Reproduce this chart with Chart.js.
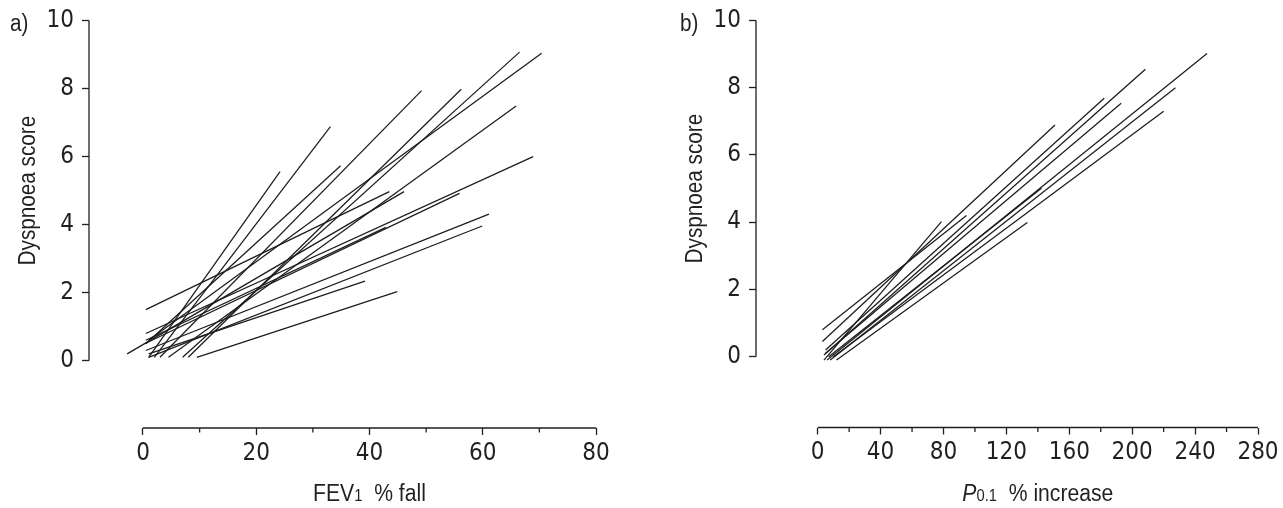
<!DOCTYPE html>
<html><head><meta charset="utf-8">
<script src="https://cdn.jsdelivr.net/npm/chart.js@4.4.1/dist/chart.umd.min.js"></script>
<style>
html,body{margin:0;padding:0;background:#fff;width:1283px;height:508px;overflow:hidden}
.box{position:absolute;top:0;height:508px}
#wa{left:0;width:660px}
#wb{left:660px;width:623px}
canvas{display:block}
</style></head><body>
<div class="box" id="wa"><canvas id="ca" width="660" height="508"></canvas></div>
<div class="box" id="wb"><canvas id="cb" width="623" height="508"></canvas></div>
<script>
// ---- data ----
const yTicks = [0, 2, 4, 6, 8, 10];
const fevTicks = [0, 20, 40, 60, 80];
const fevMinorTicks = [10, 30, 50, 70];
const p01Ticks = [0, 40, 80, 120, 160, 200, 240, 280];
const p01MinorTicks = [20, 60, 100, 140, 180, 220, 260];

// panel a: FEV1 % fall vs dyspnoea score (start/end of each subject's line)
const fevStartX = [0.5, -2.8, 0.5, 0.3, 0.5, 1.0, 0.5, 1.0, 9.5, 1.0, 2.0, 0.5, 3.0, 8.0, 7.0, 1.0, 4.5];
const fevStartY = [1.5, 0.2, 0.8, 0.5, 0.3, 0.1, 0.6, 0.2, 0.1, 0.1, 0.1, 0.5, 0.1, 0.1, 0.1, 0.6, 0.1];
const fevEndX   = [43.5, 46.1, 68.9, 55.9, 61.1, 59.9, 42.9, 39.2, 44.9, 24.2, 33.1, 34.9, 49.2, 56.2, 66.5, 70.4, 65.9];
const fevEndY   = [4.97, 4.97, 6.0, 4.92, 4.31, 3.96, 3.92, 2.34, 2.03, 5.56, 6.88, 5.73, 7.94, 7.98, 9.07, 9.04, 7.49];

// panel b: P0.1 % increase vs dyspnoea score
const p01StartX = [3, 3, 5, 4, 6, 5, 8, 7, 4, 12, 10];
const p01StartY = [0.8, 0.45, 0.2, 0.05, -0.1, 0.1, -0.1, 0.0, -0.1, -0.1, 0.0];
const p01EndX   = [94.6, 150.9, 182.2, 208.4, 247.6, 193, 227.5, 142.3, 78.7, 133.3, 220];
const p01EndY   = [4.2, 6.89, 7.69, 8.55, 9.02, 7.54, 8.0, 5.01, 4.02, 3.99, 7.3];

const yTitle = 'Dyspnoea score';
const fevTitle = [{t: 'FEV', k: 'n'}, {t: '1', k: 's'}, {t: '  % fall', k: 'n'}];
const p01Title = [{t: 'P', k: 'i'}, {t: '0.1', k: 's'}, {t: '  % increase', k: 'n'}];

// ---- styles ----
const INK = '#231f20';
const LINE = '#1c1c1c';
const TICKFONT = {family: "'Liberation Sans Narrow', 'Arial Narrow', 'DejaVu Sans Condensed', sans-serif", size: 24};
const TFAM = "'Liberation Sans', Arial, sans-serif";

function makeDatasets(sx, sy, ex, ey) {
  return sx.map((v, i) => ({
    data: [{x: sx[i], y: sy[i]}, {x: ex[i], y: ey[i]}],
    showLine: true, borderColor: LINE, borderWidth: 1.25,
    pointRadius: 0, pointHoverRadius: 0, fill: false
  }));
}

const decorPlugin = {
  id: 'decor',
  afterDraw(chart, args, o) {
    const ctx = chart.ctx;
    const xs = chart.scales.x, ys = chart.scales.y;
    const ca = chart.chartArea;
    ctx.save();
    ctx.strokeStyle = INK; ctx.lineWidth = 1.3;
    ctx.beginPath();
    ctx.moveTo(ca.left, ys.getPixelForValue(yTicks[0]));
    ctx.lineTo(ca.left, ys.getPixelForValue(yTicks[yTicks.length - 1]));
    ctx.moveTo(xs.getPixelForValue(o.xTicks[0]), ca.bottom);
    ctx.lineTo(xs.getPixelForValue(o.xTicks[o.xTicks.length - 1]), ca.bottom);
    o.minor.forEach(v => {
      const px = xs.getPixelForValue(v);
      ctx.moveTo(px, ca.bottom); ctx.lineTo(px, ca.bottom + 4.5);
    });
    ctx.stroke();
    ctx.fillStyle = INK;
    ctx.font = '23px ' + TFAM;
    ctx.textAlign = 'left'; ctx.textBaseline = 'alphabetic';
    ctx.save(); ctx.translate(o.letterX, 31); ctx.scale(0.9, 1); ctx.fillText(o.letter, 0, 0); ctx.restore();
    ctx.save();
    ctx.translate(ca.left - 60, ys.getPixelForValue(5));
    ctx.rotate(-Math.PI / 2);
    ctx.scale(0.9, 1);
    ctx.textAlign = 'center'; ctx.textBaseline = 'middle';
    ctx.font = '23px ' + TFAM;
    ctx.fillText(yTitle, 0, 0);
    ctx.restore();
    const fonts = {n: '23px ' + TFAM, i: 'italic 23px ' + TFAM, s: '16px ' + TFAM};
    let w = 0;
    o.xTitle.forEach(s => { ctx.font = fonts[s.k]; w += ctx.measureText(s.t).width; });
    const sc = 0.92;
    let cx = xs.getPixelForValue(o.xMid) - w * sc / 2;
    ctx.textAlign = 'left'; ctx.textBaseline = 'alphabetic';
    o.xTitle.forEach(s => {
      ctx.font = fonts[s.k];
      ctx.save(); ctx.translate(cx, 501); ctx.scale(sc, 1); ctx.fillText(s.t, 0, 0); ctx.restore();
      cx += ctx.measureText(s.t).width * sc;
    });
    ctx.restore();
  }
};

function makeChart(id, cfg) {
  return new Chart(document.getElementById(id), {
    type: 'scatter',
    data: {datasets: makeDatasets(cfg.sx, cfg.sy, cfg.ex, cfg.ey)},
    options: {
      responsive: false, animation: false, devicePixelRatio: 1,
      layout: {padding: {left: 0, top: 20.5, right: cfg.padRight, bottom: 0}},
      plugins: {legend: {display: false}, tooltip: {enabled: false},
        decor: {xTicks: cfg.xTicks, minor: cfg.minor, letter: cfg.letter, letterX: cfg.letterX, xTitle: cfg.xTitle, xMid: cfg.xMid}},
      scales: {
        x: {
          type: 'linear', min: cfg.xMin, max: cfg.xMax,
          afterBuildTicks: s => { s.ticks = cfg.xTicks.map(v => ({value: v})); },
          afterFit: s => { s.height = cfg.xH; s.paddingLeft = 0; s.paddingRight = 0; },
          ticks: {autoSkip: false, maxRotation: 0, minRotation: 0, padding: 4, color: INK, font: TICKFONT,
            callback: v => String(v)},
          grid: {display: true, drawOnChartArea: false, drawTicks: true, tickLength: 7, tickColor: INK, tickWidth: 1.3},
          border: {display: false}
        },
        y: {
          type: 'linear', min: cfg.yMin, max: 10,
          afterBuildTicks: s => { s.ticks = yTicks.map(v => ({value: v})); },
          afterFit: s => { s.width = cfg.yW; s.paddingTop = 0; s.paddingBottom = 0; },
          ticks: {autoSkip: false, padding: 8, color: INK, font: TICKFONT, callback: v => String(v)},
          grid: {display: true, drawOnChartArea: false, drawTicks: true, tickLength: 7, tickColor: INK, tickWidth: 1.3},
          border: {display: false}
        }
      }
    },
    plugins: [decorPlugin]
  });
}

makeChart('ca', {sx: fevStartX, sy: fevStartY, ex: fevEndX, ey: fevEndY,
  xMin: -9.536, xMax: 80, yMin: -1.978, xTicks: fevTicks, minor: fevMinorTicks,
  padRight: 64, xH: 80, yW: 89, letter: 'a)', letterX: 10, xTitle: fevTitle, xMid: 40});
makeChart('cb', {sx: p01StartX, sy: p01StartY, ex: p01EndX, ey: p01EndY,
  xMin: -39.24, xMax: 280, yMin: -2.106, xTicks: p01Ticks, minor: p01MinorTicks,
  padRight: 25, xH: 80.5, yW: 96, letter: 'b)', letterX: 20, xTitle: p01Title, xMid: 140});
</script>
</body></html>
